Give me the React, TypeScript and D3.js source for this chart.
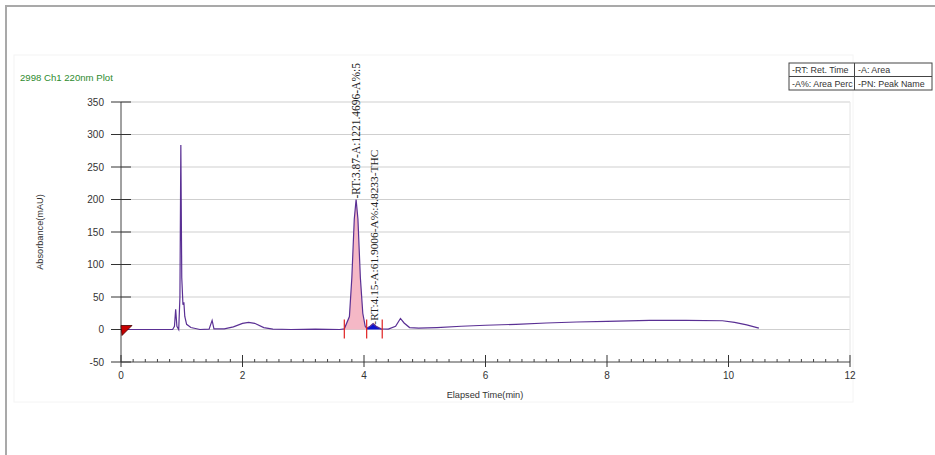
import React from "react";
import * as d3 from "d3";

const times = [0, 0.5, 0.85, 0.88, 0.9, 0.92, 0.95, 0.97, 0.985, 1.0, 1.02, 1.035, 1.05, 1.08, 1.15, 1.3, 1.45, 1.5, 1.53, 1.7, 1.85, 2.0, 2.1, 2.2, 2.35, 2.5, 2.8, 3.2, 3.6, 3.676, 3.76, 3.8, 3.84, 3.87, 3.9, 3.94, 3.98, 4.02, 4.044, 4.1, 4.15, 4.2, 4.28, 4.3, 4.4, 4.52, 4.6, 4.66, 4.75, 4.9, 5.2, 5.6, 6.0, 6.5, 7.0, 7.5, 8.0, 8.7, 9.3, 9.9, 10.1, 10.3, 10.5];
const absorb = [0, 0, 0, 5, 31, 5, 0, 50, 284, 80, 38, 42, 20, 8, 3, 0, 0.5, 14, 1, 1, 4, 9.5, 11, 9.5, 3, 0.5, 0, 0.5, 0, 1, 20, 80, 170, 200, 170, 80, 25, 5, 2, 5, 9, 5, 1, 0.8, 0.5, 5, 17, 10, 3, 2, 3, 5, 6.5, 8, 10, 11.5, 12.5, 14, 14, 13.5, 11, 7, 2];

const peaks = [
  { start: 3.676, end: 4.044, fill: "#f5b8c6", label: "-RT:3.87-A:1221.4696-A%:5", top: 200 },
  { start: 4.044, end: 4.3, fill: "#0a14d0", label: "-RT:4.15-A:61.9006-A%:4.8233-THC", top: 9 },
];

const xTicks = [0, 2, 4, 6, 8, 10, 12];
const yTicks = [-50, 0, 50, 100, 150, 200, 250, 300, 350];
const legendCells = [["-RT: Ret. Time", "-A: Area"], ["-A%: Area Perc", "-PN: Peak Name"]];

export default function App() {
  const x = d3.scaleLinear().domain([0, 12]).range([121, 850]);
  const y = d3.scaleLinear().domain([-50, 350]).range([362, 102]);
  const pts = times.map((t, i) => [t, absorb[i]] as [number, number]);
  const line = d3.line<[number, number]>().x(d => x(d[0])).y(d => y(d[1]));
  const area = d3.area<[number, number]>().x(d => x(d[0])).y0(y(0)).y1(d => y(d[1]));
  const minor = d3.range(0, 12.0001, 0.2).filter(v => Math.abs(v / 2 - Math.round(v / 2)) > 0.01);
  const sans = "'Liberation Sans', Arial, sans-serif";
  const serif = "'Liberation Serif', 'Times New Roman', serif";
  const purple = "#5a3094";
  return (
    <svg width={935} height={455} style={{ position: "absolute", left: 0, top: 0, background: "#fff" }}>
      <rect x={0} y={0} width={935} height={455} fill="#fff" />
      <line x1={5} y1={6} x2={935} y2={6} stroke="#a9a9a9" strokeWidth={2} />
      <line x1={6} y1={5} x2={6} y2={455} stroke="#a9a9a9" strokeWidth={2} />
      <rect x={14} y={55} width={839} height={347} fill="none" stroke="#f4f4f4" strokeWidth={1} />
      <text x={20} y={81} fill="#2e8b2e" fontFamily={sans} fontSize={9.6}>2998 Ch1 220nm Plot</text>
      {/* grid */}
      {yTicks.filter(v => v > -50).map(v => (
        <line key={"g" + v} x1={121} x2={850} y1={y(v)} y2={y(v)} stroke="#cfcfcf" strokeWidth={1} />
      ))}
      <line x1={850} x2={850} y1={y(350)} y2={y(-50)} stroke="#e4e4e4" strokeWidth={1} />
      {/* y axis */}
      <line x1={121} x2={121} y1={y(350)} y2={y(-50)} stroke="#444" strokeWidth={1} />
      {yTicks.map(v => (
        <g key={"y" + v}>
          <line x1={111} x2={131} y1={y(v)} y2={y(v)} stroke="#333" strokeWidth={1} />
          <text x={104} y={y(v) + 3.5} textAnchor="end" fontFamily={sans} fontSize={10} fill="#333">{v}</text>
        </g>
      ))}
      {/* x axis */}
      <line x1={121} x2={850} y1={y(-50)} y2={y(-50)} stroke="#444" strokeWidth={1} />
      {minor.map(v => (
        <line key={"m" + v} x1={x(v)} x2={x(v)} y1={y(-50) - 3} y2={y(-50)} stroke="#444" strokeWidth={1} />
      ))}
      {xTicks.map(v => (
        <g key={"x" + v}>
          <line x1={x(v)} x2={x(v)} y1={y(-50) - 7} y2={y(-50) + 5} stroke="#333" strokeWidth={1} />
          <text x={x(v)} y={y(-50) + 17} textAnchor="middle" fontFamily={sans} fontSize={10} fill="#333">{v}</text>
        </g>
      ))}
      <text x={485} y={398} textAnchor="middle" fontFamily={sans} fontSize={9.2} fill="#333">Elapsed Time(min)</text>
      <text transform={`translate(43,${y(150)}) rotate(-90)`} textAnchor="middle" fontFamily={sans} fontSize={9.2} fill="#333">Absorbance(mAU)</text>
      {/* peak fills */}
      {peaks.map((p, i) => (
        <path key={"pf" + i} d={area(pts.filter(d => d[0] >= p.start - 1e-6 && d[0] <= p.end + 1e-6)) || ""} fill={p.fill} stroke="none" />
      ))}
      <path d={line(pts) || ""} fill="none" stroke={purple} strokeWidth={1.2} />
      {/* peak boundary markers */}
      {[peaks[0].start, peaks[0].end, peaks[1].end].map((t, i) => (
        <line key={"b" + i} x1={x(t)} x2={x(t)} y1={y(0) - 10} y2={y(0) + 9} stroke="#e02020" strokeWidth={1.2} />
      ))}
      {/* start marker */}
      <polygon points={`${x(0)},${y(0) - 4} ${x(0) + 11},${y(0) - 4} ${x(0) + 1},${y(0) + 6}`} fill="#c80000" stroke="#400" strokeWidth={0.8} />
      {/* annotations */}
      <text transform={`translate(${x(3.87) + 4},${y(peaks[0].top) - 1}) rotate(-90)`} fontFamily={serif} fontSize={11.5} fill="#222">{peaks[0].label}</text>
      <text transform={`translate(${x(4.15) + 4.5},${y(peaks[1].top) + 1}) rotate(-90)`} fontFamily={serif} fontSize={11.4} fill="#222">{peaks[1].label}</text>
      {/* legend table */}
      <g fontFamily={sans} fontSize={8.9} fill="#333">
        <rect x={789} y={63} width={143} height={27} fill="#fff" stroke="#444" strokeWidth={1} />
        <line x1={789} x2={932} y1={76.5} y2={76.5} stroke="#444" strokeWidth={1} />
        <line x1={854.5} x2={854.5} y1={63} y2={90} stroke="#444" strokeWidth={1} />
        {legendCells.map((row, r) => row.map((c, ci) => (
          <text key={r + "-" + ci} x={ci === 0 ? 792 : 858} y={73 + r * 13.5}>{c}</text>
        )))}
      </g>
    </svg>
  );
}
